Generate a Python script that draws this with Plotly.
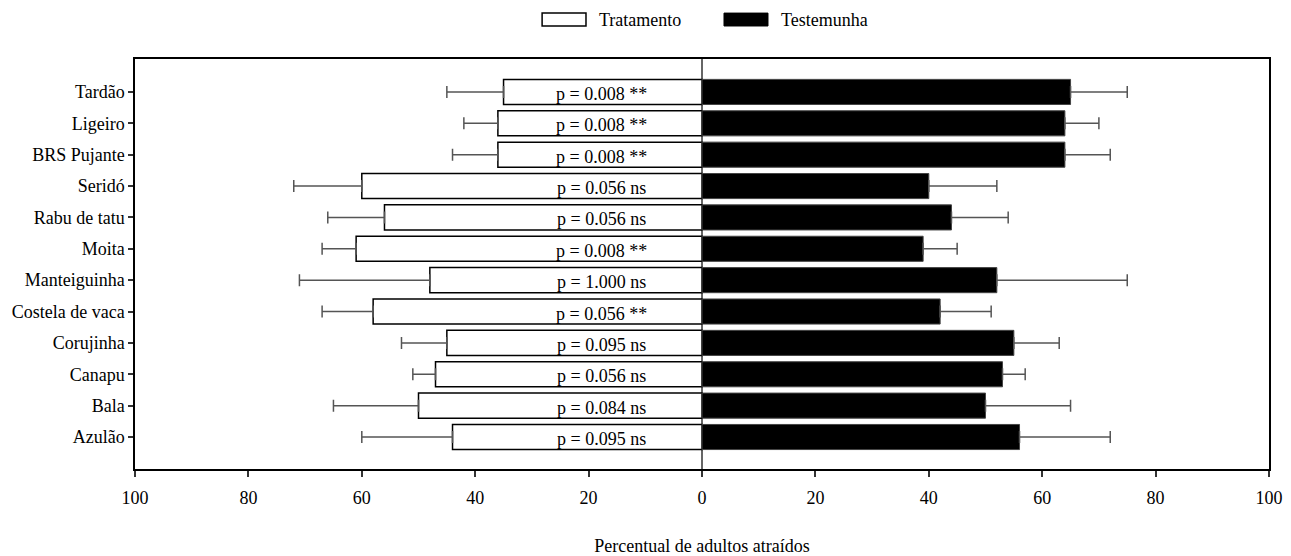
import plotly.graph_objects as go

# Data (bottom to top)
categories = ["Azulão", "Bala", "Canapu", "Corujinha", "Costela de vaca", "Manteiguinha",
              "Moita", "Rabu de tatu", "Seridó", "BRS Pujante", "Ligeiro", "Tardão"]
tratamento = [44, 50, 47, 45, 58, 48, 61, 56, 60, 36, 36, 35]
tratamento_err = [16, 15, 4, 8, 9, 23, 6, 10, 12, 8, 6, 10]
testemunha = [56, 50, 53, 55, 42, 52, 39, 44, 40, 64, 64, 65]
testemunha_err = [16, 15, 4, 8, 9, 23, 6, 10, 12, 8, 6, 10]
p_labels = ["p = 0.095 ns", "p = 0.084 ns", "p = 0.056 ns", "p = 0.095 ns", "p = 0.056 **",
            "p = 1.000 ns", "p = 0.008 **", "p = 0.056 ns", "p = 0.056 ns", "p = 0.008 **",
            "p = 0.008 **", "p = 0.008 **"]
tick_vals = [-100, -80, -60, -40, -20, 0, 20, 40, 60, 80, 100]
tick_text = ["100", "80", "60", "40", "20", "0", "20", "40", "60", "80", "100"]

FONT = "Liberation Serif, Times New Roman, serif"
ERR_COLOR = "#555555"

fig = go.Figure()
fig.add_trace(go.Bar(
    name="Tratamento", y=categories, x=[-v for v in tratamento], orientation="h",
    width=0.8, marker=dict(color="white", line=dict(color="black", width=1.5)),
    error_x=dict(type="data", symmetric=False, array=[0] * len(categories),
                 arrayminus=tratamento_err, color=ERR_COLOR, thickness=1.5, width=6),
    showlegend=False,
))
fig.add_trace(go.Bar(
    name="Testemunha", y=categories, x=testemunha, orientation="h",
    width=0.8, marker=dict(color="black", line=dict(color="#444444", width=1)),
    error_x=dict(type="data", symmetric=False, array=testemunha_err,
                 arrayminus=[0] * len(categories), color=ERR_COLOR, thickness=1.5, width=6),
    showlegend=False,
))

for cat, lab in zip(categories, p_labels):
    fig.add_annotation(x=-17.7, y=cat, text=lab, showarrow=False, yshift=-2,
                       font=dict(family=FONT, size=18, color="black"))

# Legend drawn manually (wide rectangles as in reference)
fig.add_shape(type="rect", xref="paper", yref="paper", x0=0.359, x1=0.3977, y0=1.0805, y1=1.112,
              line=dict(color="black", width=1.5), fillcolor="white")
fig.add_shape(type="rect", xref="paper", yref="paper", x0=0.5194, x1=0.5582, y0=1.0805, y1=1.112,
              line=dict(color="black", width=1), fillcolor="black")
fig.add_annotation(x=0.4071, y=1.0963, xref="paper", yref="paper", text="Tratamento",
                   showarrow=False, xanchor="left", yanchor="middle",
                   font=dict(family=FONT, size=18, color="black"))
fig.add_annotation(x=0.5679, y=1.0963, xref="paper", yref="paper", text="Testemunha",
                   showarrow=False, xanchor="left", yanchor="middle",
                   font=dict(family=FONT, size=18, color="black"))

fig.update_layout(
    width=1283, height=548,
    margin=dict(l=127, r=22, t=51, b=87),
    plot_bgcolor="white", paper_bgcolor="white",
    barmode="overlay",
    font=dict(family=FONT, size=18, color="black"),
    xaxis=dict(range=[-100, 100], tickvals=tick_vals, ticktext=tick_text,
               showgrid=False, zeroline=True, zerolinecolor="#666666", zerolinewidth=1.5,
               showline=True, linecolor="black", linewidth=1.5, mirror=True,
               ticks="outside", ticklen=6, tickwidth=1.5, tickcolor="#333333",
               ticklabelstandoff=6, automargin=False,
               title=dict(text="Percentual de adultos atraídos", standoff=37,
                          font=dict(family=FONT, size=18))),
    yaxis=dict(type="category", categoryorder="array", categoryarray=categories,
               range=[-1.02, 12.05], showgrid=False, zeroline=False, automargin=False,
               showline=True, linecolor="black", linewidth=1.5, mirror=True,
               ticks="outside", ticklen=5, tickwidth=1.5, tickcolor="#333333"),
)

fig.write_html("out.html")
